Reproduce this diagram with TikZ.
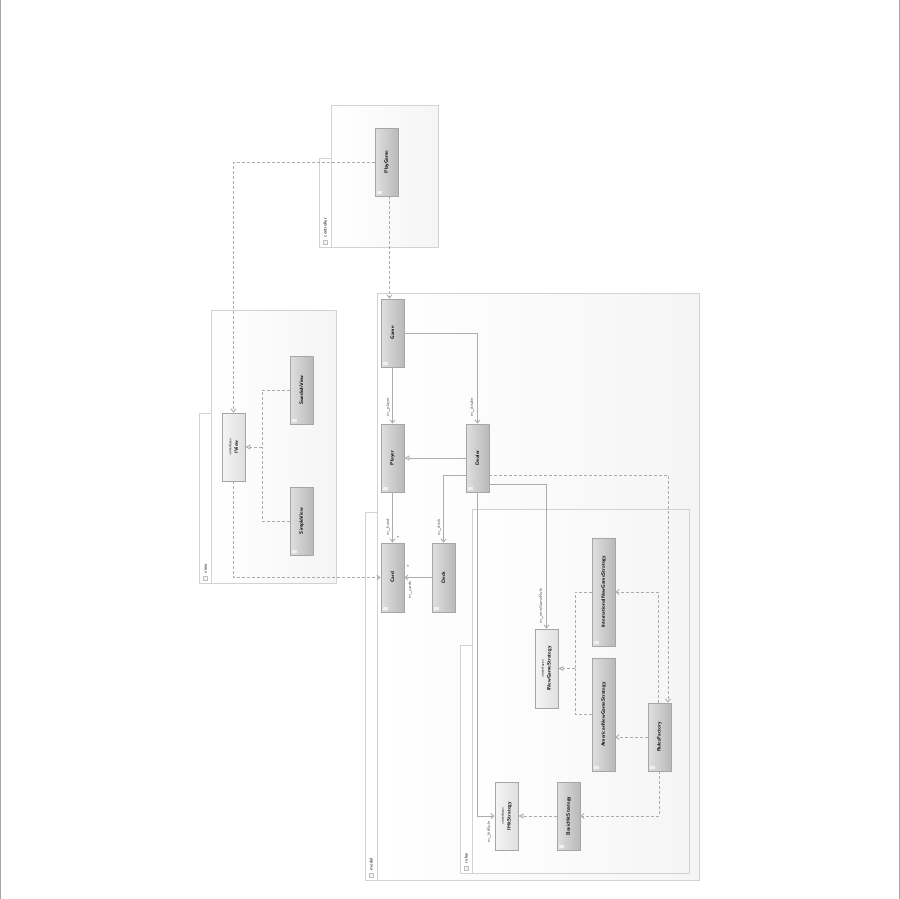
\documentclass[tikz,border=0pt]{standalone}
\usepackage{fontspec}
\usetikzlibrary{arrows.meta,calc}
\newcommand{\vtext}[1]{\rotatebox{90}{#1}}

\begin{document}
\begin{tikzpicture}[x=1pt,y=-1pt,
  pkg/.style={draw=gray!35,left color=white,right color=gray!8,inner sep=0pt},
  pkgtab/.style={draw=gray!35,fill=white,minimum width=12pt,inner sep=0pt},
  tabicon/.style={draw=gray!50,fill=gray!10,minimum size=4pt,inner sep=0pt},
  tablbl/.style={font=\sffamily\fontsize{4.5}{5}\selectfont,inner sep=0.5pt},
  cls/.style={draw=gray!70,left color=gray!25,right color=gray!55,minimum width=23pt,
    minimum height=68pt,inner sep=0pt,font=\sffamily\bfseries\fontsize{5}{6}\selectfont,
    path picture={\fill[gray!12] ($(path picture bounding box.south west)+(2,-2)$) rectangle ++(5,-3);}},
  ifc/.style={cls,left color=gray!8,right color=gray!25},
  lbl/.style={font=\sffamily\fontsize{4.5}{5}\selectfont,inner sep=0pt,text=gray!75!black},
  dsh/.style={dash pattern=on 3pt off 2pt},
  assoc/.style={draw=gray!65,-{Straight Barb[length=3pt,width=5pt]}},
  dep/.style={draw=gray!65,dsh,-{Straight Barb[length=3pt,width=5pt]}},
  real/.style={draw=gray!65,dsh,-{Triangle[open,length=5pt,width=5pt]}},
  inh/.style={draw=gray!65,-{Triangle[open,length=5pt,width=5pt]}},
  line width=0.9pt]
  \useasboundingbox (0,0) rectangle (900,899);
  \draw[gray!70,line width=1.2pt] (0.6,0) -- (0.6,899);
  \draw[gray!70,line width=1.2pt] (899.4,0) -- (899.4,899);

  \node[pkg,minimum width=107pt,minimum height=142pt] (controller) at (384.5,176) {};
  \node[pkgtab,minimum height=89pt] (controllertab) at (325,202.5) {};
  \node[pkg,minimum width=125pt,minimum height=273pt] (view) at (273.5,446.5) {};
  \node[pkgtab,minimum height=170pt] (viewtab) at (205.5,498) {};
  \node[pkg,minimum width=322pt,minimum height=587pt] (model) at (538,586.5) {};
  \node[pkgtab,minimum height=368pt] (modeltab) at (371,696) {};
  \node[pkg,minimum width=217pt,minimum height=364pt] (rules) at (580.5,691) {};
  \node[pkgtab,minimum height=228pt] (rulestab) at (466,759) {};
  \foreach \p in {controller,view,model,rules} {
    \node[tabicon] (\p icon) at ($(\p tab.south)+(0,-5)$) {};
    \node[tablbl,anchor=south] (\p lbl) at ($(\p icon.north)+(0,-2)$) {\vtext{\p}};
  }

  \node[cls] (PlayGame) at (386.5,162) {\vtext{PlayGame}};
  \node[cls] (Game) at (392.5,333) {\vtext{Game}};
  \node[cls] (Player) at (392.5,458) {\vtext{Player}};
  \node[cls] (Dealer) at (477.5,458) {\vtext{Dealer}};
  \node[cls,minimum height=69pt] (Card) at (392.5,577.5) {\vtext{Card}};
  \node[cls,minimum height=69pt] (Deck) at (443.5,577.5) {\vtext{Deck}};
  \node[ifc] (IView) at (233.5,447) {\vtext{\shortstack{{\mdseries\fontsize{3.5}{4}\selectfont «interface»}\\IView}}};
  \node[cls] (SwedishView) at (301.5,390) {\vtext{SwedishView}};
  \node[cls] (SimpleView) at (301.5,521) {\vtext{SimpleView}};
  \node[ifc,minimum height=79pt] (INewGameStrategy) at (546.5,668.5)
    {\vtext{\shortstack{{\mdseries\fontsize{3.5}{4}\selectfont «interface»}\\INewGameStrategy}}};
  \node[cls,minimum height=108pt] (International) at (603.5,592) {\vtext{InternationalNewGameStrategy}};
  \node[cls,minimum height=113pt] (American) at (603.5,714.5) {\vtext{AmericanNewGameStrategy}};
  \node[cls] (RulesFactory) at (659.5,737) {\vtext{RulesFactory}};
  \node[ifc] (IHitStrategy) at (506.5,816) {\vtext{\shortstack{{\mdseries\fontsize{3.5}{4}\selectfont «interface»}\\IHitStrategy}}};
  \node[cls] (BasicHitStrategy) at (568.5,816) {\vtext{BasicHitStrategy}};

  \coordinate (viewjoin) at (262,447);
  \coordinate (rulejoin) at (575,668.5);

  \draw[dep] (PlayGame.west) -| (IView.north);
  \draw[dep] ($(PlayGame.south)+(3,0)$) -- ($(Game.north)+(-3,0)$);
  \draw[dep] (IView.south) |- (Card.west);
  \draw[dsh,gray!65] (SwedishView.west) -| (viewjoin);
  \draw[dsh,gray!65] (SimpleView.west) -| (viewjoin);
  \draw[real] (viewjoin) -- (IView.east);

  \draw[assoc] (Game.south) -- (Player.north);
  \draw[assoc] (Game.east) -| (Dealer.north);
  \draw[inh] (Dealer.west) -- (Player.east);
  \draw[assoc] (Player.south) -- (Card.north);
  \draw[assoc] ($(Dealer.west)+(0,17)$) -| (Deck.north);
  \draw[assoc] (Deck.west) -- (Card.east);
  \draw[assoc] ($(Dealer.east)+(0,26)$) -| (INewGameStrategy.north);
  \draw[assoc] (Dealer.south) |- (IHitStrategy.west);
  \draw[dep] ($(Dealer.east)+(0,17)$) -| ($(RulesFactory.north)+(8.5,0)$);
  \draw[dep] ($(RulesFactory.north)+(-1.5,0)$) |- (International.east);
  \draw[dep] (RulesFactory.west) -- (RulesFactory.west -| American.east);
  \draw[dep] (RulesFactory.south) |- (BasicHitStrategy.east);
  \draw[dsh,gray!65] (International.west) -| (rulejoin);
  \draw[dsh,gray!65] (American.west) -| (rulejoin);
  \draw[real] (rulejoin) -- (INewGameStrategy.east);
  \draw[real] (BasicHitStrategy.west) -- (IHitStrategy.east);

  \node[lbl] (lplayer) at (388,407) {\vtext{m\_player}};
  \node[lbl] (ldealer) at (472,407) {\vtext{m\_dealer}};
  \node[lbl] (lhand) at (388,527) {\vtext{m\_hand}};
  \node[lbl] (mhand) at (398,538) {*};
  \node[lbl] (ldeck) at (439,527) {\vtext{m\_deck}};
  \node[lbl] (lcards) at (410,590) {\vtext{m\_cards}};
  \node[lbl] (mcards) at (408,567) {*};
  \node[lbl] (lnewgame) at (541,606) {\vtext{m\_newGameRule}};
  \node[lbl] (lhit) at (489,832) {\vtext{m\_hitRule}};
\end{tikzpicture}
\end{document}
